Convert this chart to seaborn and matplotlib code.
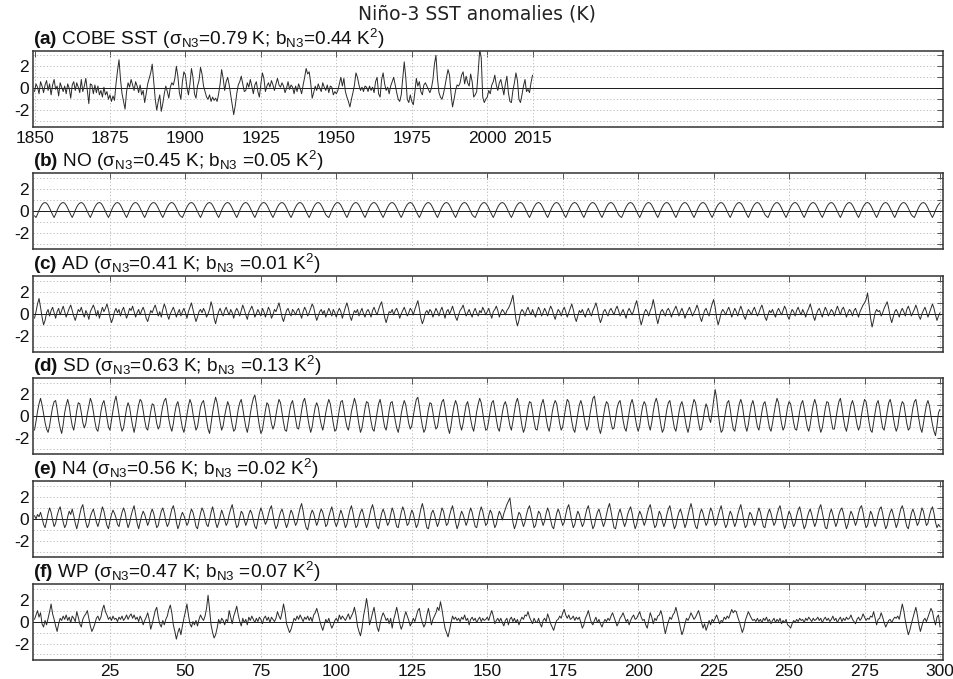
import numpy as np
import pandas as pd
import seaborn as sns
import matplotlib.pyplot as plt

# -------------------- DATA --------------------
# (a) COBE SST, half-year samples from 1850.0
cobe_start = 1850.0
cobe_sst = [
    -0.3, 0.4, 0.1, -0.5, 0.6, 0.2, -0.4, 0.3, 0.7, -0.2, 0.4, -0.6, 0.3, 0.8, -0.1, 0.2, -0.7, 0.5, 0.1, -0.3,
    0.2, -0.5, 0.4, 0.0, -0.9, 0.3, 0.6, -0.2, 0.5, 0.1, -0.4, 0.8, -0.3, 0.2, 0.9, -0.2, -1.4, 0.4, 0.3, -0.5,
    0.3, -0.4, 0.2, -0.6, -0.2, -0.8, 0.1, -0.6, -0.3, -1.0, -0.6, -1.2, -0.7, -1.1, 0.4, 1.6, 2.6, 0.8, -0.5, -1.2,
    -1.9, -0.3, 0.5, 0.1, 0.8, 0.3, -0.2, 0.6, 0.2, -0.4, 0.3, -0.6, -0.2, -1.3, -0.5, 0.4, 0.9, 1.4, 2.2, 0.6,
    -1.0, -2.0, -1.2, -0.6, -2.1, -1.4, -0.5, 0.2, -0.3, -0.9, 0.1, 0.5, 0.3, 0.9, 2.0, 1.1, -0.4, -1.0, 0.6, 1.5,
    1.2, 0.1, -0.6, 0.4, 1.8, 1.0, -0.5, -0.9, 0.2, 0.7, 1.9, 1.3, 0.2, -0.3, -0.8, -1.0, -0.6, -1.2, -0.8, -1.1,
    -0.9, -1.2, -0.5, 0.4, 1.7, 0.9, -0.2, 0.6, 1.0, 0.3, -0.6, -1.5, -2.4, -1.6, -0.5, 0.3, 0.6, 1.1, 0.4, -0.3,
    -0.2, 0.5, 0.1, 0.8, 0.2, -0.5, 0.3, 0.6, -0.3, -0.8, 0.4, 1.4, 0.9, -0.3, 0.2, 0.5, 0.1, 0.7, 0.3, -0.2,
    0.4, 0.9, 0.3, 0.1, 0.5, 0.2, -0.4, 0.0, 0.6, -0.1, 0.3, 0.1, -0.5, 0.2, -0.3, 0.4, 0.0, -0.5, 0.3, 1.0,
    1.8, 1.3, 1.5, 0.5, -0.9, -0.4, 0.2, -0.2, 0.4, 0.0, -0.3, 0.5, 0.1, -0.2, 0.3, -0.4, 0.2, 0.1, -0.6, -0.3,
    -0.5, -0.2, 0.4, 1.0, 0.2, 0.9, -0.3, -0.8, -1.2, -1.7, -1.0, -0.4, 0.3, 1.4, 1.0, 0.3, -0.2, 0.1, -0.3, 0.2,
    0.1, -0.3, 0.2, -0.2, 0.1, -0.4, 0.6, 1.0, -0.5, -0.8, 0.8, 1.4, 0.4, -0.2, 0.1, -0.5, 0.2, 0.6, 1.0, 0.3,
    -0.4, -1.0, -1.2, -0.6, 0.9, 2.4, 1.0, -1.0, -1.3, -0.6, -1.2, -1.5, -0.4, 0.9, 0.2, 0.6, -0.3, -0.6, 0.3, 0.5,
    0.2, -0.1, -0.4, 0.0, 0.8, 2.2, 3.0, 0.9, -0.4, -0.8, -1.0, -0.5, 0.2, 1.0, 1.7, 1.2, -0.5, -1.7, -1.0, -0.2,
    0.3, 0.2, 0.5, 1.2, 1.5, 0.4, 1.1, 0.5, 0.2, 1.3, 0.6, -0.8, -0.6, -0.3, 1.5, 3.5, 2.8, -0.8, -1.3, -1.0,
    -0.8, -0.2, -0.5, 0.3, 0.6, 1.2, 0.3, -0.2, 0.5, 0.8, 0.1, -0.6, 0.4, 1.1, -0.4, -1.2, -1.3, -0.2, 0.5, 1.4,
    0.7, -1.0, -1.3, -0.6, 0.2, 0.8, -0.3, -0.1, -0.4, 0.5, 1.2,
]

# (b)-(f) model runs, half-year samples from model year 0
no_sst = [
    -0.45,
    -0.6, -0.3, 0.05, 0.35, 0.58, 0.72, 0.76, 0.7, 0.52, 0.25, -0.05, -0.35,
    -0.6, -0.3, 0.05, 0.35, 0.58, 0.72, 0.76, 0.7, 0.52, 0.25, -0.05, -0.35,
    -0.6, -0.3, 0.05, 0.35, 0.58, 0.72, 0.76, 0.7, 0.52, 0.25, -0.05, -0.35,
    -0.6, -0.3, 0.05, 0.35, 0.58, 0.72, 0.76, 0.7, 0.52, 0.25, -0.05, -0.35,
    -0.6, -0.3, 0.05, 0.35, 0.58, 0.72, 0.76, 0.7, 0.52, 0.25, -0.05, -0.35,
    -0.6, -0.3, 0.05, 0.35, 0.58, 0.72, 0.76, 0.7, 0.52, 0.25, -0.05, -0.35,
    -0.6, -0.3, 0.05, 0.35, 0.58, 0.72, 0.76, 0.7, 0.52, 0.25, -0.05, -0.35,
    -0.6, -0.3, 0.05, 0.35, 0.58, 0.72, 0.76, 0.7, 0.52, 0.25, -0.05, -0.35,
    -0.5,
    -0.6, -0.3, 0.05, 0.35, 0.58, 0.72, 0.76, 0.7, 0.52, 0.25, -0.05, -0.35,
    -0.6, -0.3, 0.05, 0.35, 0.58, 0.72, 0.76, 0.7, 0.52, 0.25, -0.05, -0.35,
    -0.6, -0.3, 0.05, 0.35, 0.58, 0.72, 0.76, 0.7, 0.52, 0.25, -0.05, -0.35,
    -0.6, -0.3, 0.05, 0.35, 0.58, 0.72, 0.76, 0.7, 0.52, 0.25, -0.05, -0.35,
    -0.6, -0.3, 0.05, 0.35, 0.58, 0.72, 0.76, 0.7, 0.52, 0.25, -0.05, -0.35,
    -0.6, -0.3, 0.05, 0.35, 0.58, 0.72, 0.76, 0.7, 0.52, 0.25, -0.05, -0.35,
    -0.6, -0.3, 0.05, 0.35, 0.58, 0.72, 0.76, 0.7, 0.52, 0.25, -0.05, -0.35,
    -0.6, -0.3, 0.05, 0.35, 0.58, 0.72, 0.76, 0.7, 0.52, 0.25, -0.05, -0.35,
    -0.5,
    -0.6, -0.3, 0.05, 0.35, 0.58, 0.72, 0.76, 0.7, 0.52, 0.25, -0.05, -0.35,
    -0.6, -0.3, 0.05, 0.35, 0.58, 0.72, 0.76, 0.7, 0.52, 0.25, -0.05, -0.35,
    -0.6, -0.3, 0.05, 0.35, 0.58, 0.72, 0.76, 0.7, 0.52, 0.25, -0.05, -0.35,
    -0.6, -0.3, 0.05, 0.35, 0.58, 0.72, 0.76, 0.7, 0.52, 0.25, -0.05, -0.35,
    -0.6, -0.3, 0.05, 0.35, 0.58, 0.72, 0.76, 0.7, 0.52, 0.25, -0.05, -0.35,
    -0.6, -0.3, 0.05, 0.35, 0.58, 0.72, 0.76, 0.7, 0.52, 0.25, -0.05, -0.35,
    -0.6, -0.3, 0.05, 0.35, 0.58, 0.72, 0.76, 0.7, 0.52, 0.25, -0.05, -0.35,
    -0.6, -0.3, 0.05, 0.35, 0.58, 0.72, 0.76, 0.7, 0.52, 0.25, -0.05, -0.35,
    -0.5,
    -0.6, -0.3, 0.05, 0.35, 0.58, 0.72, 0.76, 0.7, 0.52, 0.25, -0.05, -0.35,
    -0.6, -0.3, 0.05, 0.35, 0.58, 0.72, 0.76, 0.7, 0.52, 0.25, -0.05, -0.35,
    -0.6, -0.3, 0.05, 0.35, 0.58, 0.72, 0.76, 0.7, 0.52, 0.25, -0.05, -0.35,
    -0.6, -0.3, 0.05, 0.35, 0.58, 0.72, 0.76, 0.7, 0.52, 0.25, -0.05, -0.35,
    -0.6, -0.3, 0.05, 0.35, 0.58, 0.72, 0.76, 0.7, 0.52, 0.25, -0.05, -0.35,
    -0.6, -0.3, 0.05, 0.35, 0.58, 0.72, 0.76, 0.7, 0.52, 0.25, -0.05, -0.35,
    -0.6, -0.3, 0.05, 0.35, 0.58, 0.72, 0.76, 0.7, 0.52, 0.25, -0.05, -0.35,
    -0.6, -0.3, 0.05, 0.35, 0.58, 0.72, 0.76, 0.7, 0.52, 0.25, -0.05, -0.35,
    -0.5,
    -0.6, -0.3, 0.05, 0.35, 0.58, 0.72, 0.76, 0.7, 0.52, 0.25, -0.05, -0.35,
    -0.6, -0.3, 0.05, 0.35, 0.58, 0.72, 0.76, 0.7, 0.52, 0.25, -0.05, -0.35,
    -0.6, -0.3, 0.05, 0.35, 0.58, 0.72, 0.76, 0.7, 0.52, 0.25, -0.05, -0.35,
    -0.6, -0.3, 0.05, 0.35, 0.58, 0.72, 0.76, 0.7, 0.52, 0.25, -0.05, -0.35,
    -0.6, -0.3, 0.05, 0.35, 0.58, 0.72, 0.76, 0.7, 0.52, 0.25, -0.05, -0.35,
    -0.6, -0.3, 0.05, 0.35, 0.58, 0.72, 0.76, 0.7, 0.52, 0.25, -0.05, -0.35,
    -0.6, -0.3, 0.05, 0.35, 0.58, 0.72, 0.76, 0.7, 0.52, 0.25, -0.05, -0.35,
    -0.6, -0.3, 0.05, 0.35, 0.58, 0.72, 0.76, 0.7, 0.52, 0.25, -0.05, -0.35,
    -0.5,
    -0.6, -0.3, 0.05, 0.35, 0.58, 0.72, 0.76, 0.7, 0.52, 0.25, -0.05, -0.35,
    -0.6, -0.3, 0.05, 0.35, 0.58, 0.72, 0.76, 0.7, 0.52, 0.25, -0.05, -0.35,
    -0.6, -0.3, 0.05, 0.35, 0.58, 0.72, 0.76, 0.7, 0.52, 0.25, -0.05, -0.35,
    -0.6, -0.3, 0.05, 0.35, 0.58, 0.72, 0.76, 0.7, 0.52, 0.25, -0.05, -0.35,
    -0.6, -0.3, 0.05, 0.35, 0.58, 0.72, 0.76, 0.7, 0.52, 0.25, -0.05, -0.35,
    -0.6, -0.3, 0.05, 0.35, 0.58, 0.72, 0.76, 0.7, 0.52, 0.25, -0.05, -0.35,
    -0.6, -0.3, 0.05, 0.35, 0.58, 0.72, 0.76, 0.7, 0.52, 0.25, -0.05, -0.35,
    -0.6, -0.3, 0.05, 0.35, 0.58, 0.72, 0.76, 0.7, 0.52, 0.25, -0.05, -0.35,
    -0.5,
    -0.6, -0.3, 0.05, 0.35, 0.58, 0.72, 0.76, 0.7, 0.52, 0.25, -0.05, -0.35,
    -0.6, -0.3, 0.05, 0.35, 0.58, 0.72,
]

ad_sst = [
    -0.4, 0.2, 0.9, 1.4, 0.6, -0.3, -1.0, -0.6, 0.1, 0.4, -0.2, 0.3, 0.6, 0.1, -0.4, 0.2, 0.5, -0.1, 0.3, 0.7,
    0.2, -0.3, 0.1, 0.5, 0.8, 0.3, -0.2, -0.6, -0.1, 0.4, 0.2, 0.6, 0.1, -0.3, 0.3, 0.0, -0.5, 0.2, 0.5, 0.8,
    0.4, -0.2, 0.3, -0.4, 0.1, 0.6, 0.2, 0.5, 0.9, 0.4, -0.3, -0.8, -0.4, 0.2, 0.5, 0.1, 0.4, -0.2, 0.3, 0.6,
    0.1, -0.4, 0.0, 0.5, 0.3, 0.7, 0.2, -0.3, 0.1, 0.4, -0.1, 0.3, 0.6, 0.2, -0.4, -0.7, -0.2, 0.3, 0.1, 0.5,
    0.8, 0.3, -0.2, 0.2, -0.3, 0.4, 0.9, 0.5, -0.1, -0.5, 0.0, 0.3, 0.6, 0.2, -0.3, 0.1, 0.4, -0.2, 0.2, 0.5,
    0.1, -0.4, 0.2, 0.6, 1.0, 0.4, -0.2, -0.7, -0.3, 0.2, 0.4, 0.1, 0.5, 0.2, -0.3, 0.0, 0.4, 1.1, 0.6, -0.4,
    -0.9, -0.3, 0.2, 0.5, 0.1, -0.2, 0.3, 0.6, 0.2, -0.1, 0.4, 0.1, -0.4, 0.2, 0.5, 0.2, -0.2, 0.3, 0.8, 0.4,
    -0.1, -0.5, 0.1, 0.4, 0.7, 0.3, -0.3, 0.0, 0.4, 0.1, -0.2, 0.5, 0.2, -0.3, 0.1, 0.6, 0.3, -0.4, -0.1, 0.4,
    0.2, 0.6, 1.0, 0.4, -0.3, -0.7, -0.2, 0.3, 0.5, 0.1, -0.2, 0.4, 0.2, -0.1, 0.3, 0.5, 0.0, -0.4, 0.2, 0.6,
    0.3, -0.2, 0.1, 0.5, 0.9, 0.6, -0.1, -0.6, -0.2, 0.2, 0.4, 0.0, 0.3, -0.3, 0.1, 0.5, 0.2, -0.2, 0.4, 0.1,
    -0.3, 0.2, 0.5, 0.2, -0.4, 0.1, 0.6, 1.0, 0.5, -0.2, -0.6, -0.1, 0.3, 0.1, 0.4, -0.2, 0.2, 0.5, 0.0, -0.3,
    0.2, 0.4, 0.1, -0.3, 0.3, 0.6, 0.2, -0.1, 0.4, 0.8, 1.1, 0.4, -0.3, -0.8, -0.3, 0.2, 0.1, 0.4, -0.1, 0.3,
    0.5, 0.1, -0.4, 0.0, 0.3, 0.6, 0.2, -0.2, 0.1, 0.5, 0.3, -0.1, 0.4, 0.8, 1.2, 0.5, -0.4, -0.9, -0.5, 0.1,
    0.3, 0.0, 0.4, 0.2, -0.3, 0.1, 0.5, 0.2, -0.2, 0.3, 0.6, 0.1, -0.4, 0.2, 0.4, 0.0, 0.3, 0.7, 0.2, -0.3,
    -0.6, -0.1, 0.3, 0.5, 0.8, 0.3, -0.2, 0.1, 0.4, 0.0, -0.3, 0.2, 0.5, 0.1, -0.2, 0.3, 0.1, 0.6, 0.3, -0.1,
    0.2, 0.5, 0.0, -0.4, 0.2, 0.4, 0.7, 0.3, -0.3, 0.1, 0.4, 0.2, -0.1, 0.3, 0.5, 0.8, 1.2, 1.7, 0.6, -0.5,
    -1.1, -0.6, 0.1, 0.4, 0.2, -0.2, 0.3, 0.6, 0.2, -0.1, 0.4, 0.0, -0.3, 0.2, 0.6, 0.3, -0.2, 0.1, 0.5, 0.2,
    -0.2, 0.3, 0.7, 0.4, -0.1, -0.5, 0.0, 0.4, 0.2, -0.2, 0.3, 0.6, 0.2, -0.3, 0.1, 0.5, 0.9, 0.4, -0.3, -0.7,
    -0.2, 0.3, 0.1, 0.4, 0.0, -0.3, 0.2, 0.5, 0.1, -0.2, 0.3, 0.6, 1.0, 0.5, -0.3, -0.8, -0.4, 0.2, 0.4, 0.1,
    -0.2, 0.3, 0.5, 0.2, -0.1, 0.4, 0.7, 0.3, -0.2, 0.1, 0.4, 0.0, -0.4, 0.2, 0.5, 0.2, -0.1, 0.3, 0.8, 1.2,
    0.5, -0.4, -1.0, -0.5, 0.1, 0.4, 0.2, -0.2, 0.3, 0.6, 1.3, 0.6, -0.3, -0.9, -0.3, 0.2, 0.4, 0.1, -0.2, 0.3,
    0.5, 0.2, -0.3, 0.1, 0.4, 0.7, 0.3, -0.2, 0.2, 0.5, 0.1, -0.4, 0.0, 0.3, 0.6, 0.2, -0.2, 0.1, 0.4, 0.8,
    0.4, -0.3, -0.7, -0.2, 0.3, 0.5, 0.1, -0.2, 0.4, 0.9, 1.3, 0.6, -0.4, -1.0, -0.5, 0.1, 0.4, 0.2, -0.1, 0.3,
    0.6, 0.2, -0.3, 0.1, 0.5, 0.2, -0.2, 0.3, 0.7, 0.3, -0.2, -0.5, 0.0, 0.4, 0.2, -0.1, 0.3, 0.6, 0.2, -0.2,
    0.1, 0.5, 0.8, 0.3, -0.3, -0.6, -0.1, 0.3, 0.1, 0.4, 0.0, -0.3, 0.2, 0.5, 0.2, -0.1, 0.3, 0.7, 0.4, -0.2,
    -0.5, 0.0, 0.4, 0.2, -0.2, 0.3, 0.6, 0.2, -0.1, 0.4, 0.1, -0.3, 0.2, 0.5, 0.9, 0.4, -0.2, -0.6, -0.1, 0.3,
    0.5, 0.1, -0.3, 0.2, 0.6, 0.3, -0.2, 0.1, 0.4, 0.2, -0.2, 0.3, 0.7, 0.3, -0.1, 0.4, 0.6, 0.2, -0.3, 0.1,
    0.4, 0.2, -0.2, 0.3, 0.5, 0.1, -0.3, 0.2, 0.5, 0.8, 1.0, 1.3, 1.9, 0.8, -0.4, -1.2, -0.6, 0.1, 0.4, 0.2,
    0.3, -0.2, 0.1, 0.5, 0.8, 1.1, 0.5, -0.3, -0.8, -0.3, 0.2, 0.4, 0.1, -0.3, 0.2, 0.5, 0.2, -0.2, 0.4, 0.7,
    0.3, -0.2, 0.1, 0.4, 0.8, 0.4, -0.2, -0.5, 0.0, 0.3, 0.6, 0.2, -0.3, 0.1, 0.5, 0.9, 0.5, -0.1, -0.6, -0.2,
    0.1,
]

sd_sst = [
    -1.3, -0.5, 0.4, 1.1, 1.6, 1.0, 0.2, -0.6, -1.2, -1.5, -0.9, 0.0, 0.8, 1.3, 1.4, 0.6, -0.4, -1.1, -1.6, -0.8,
    0.3, 1.0, 1.5, 0.9, -0.1, -0.9, -1.3, -0.5, 0.5, 1.2, 1.1, 0.3, -0.6, -1.1, -0.7, 0.2, 0.9, 1.6, 1.2, 0.4,
    -0.5, -1.2, -1.4, -0.6, 0.4, 1.1, 1.4, 0.7, -0.2, -1.0, -1.3, -0.4, 0.5, 1.3, 1.8, 1.0, 0.1, -0.8, -1.4, -1.1,
    -0.2, 0.7, 1.2, 0.8, -0.1, -0.9, -1.5, -0.8, 0.2, 1.0, 1.5, 1.3, 0.5, -0.4, -1.1, -1.3, -0.5, 0.4, 1.1, 1.0,
    0.2, -0.7, -1.2, -0.9, 0.1, 0.9, 1.4, 1.6, 0.8, -0.3, -1.0, -1.4, -0.7, 0.3, 1.0, 1.3, 0.6, -0.3, -1.1, -1.5,
    -0.8, 0.1, 0.9, 1.5, 1.1, 0.2, -0.6, -1.3, -1.0, -0.1, 0.8, 1.2, 1.4, 0.6, -0.4, -1.2, -1.6, -0.7, 0.3, 1.1,
    1.7, 1.2, 0.3, -0.6, -1.3, -0.9, 0.0, 0.7, 1.3, 0.9, 0.0, -0.8, -1.4, -1.2, -0.3, 0.6, 1.2, 1.5, 0.7, -0.2,
    -1.0, -1.5, -0.8, 0.2, 1.0, 1.6, 1.9, 1.1, 0.0, -0.9, -1.6, -1.3, -0.4, 0.5, 1.2, 1.0, 0.2, -0.7, -1.2, -0.8,
    0.1, 0.9, 1.5, 1.2, 0.3, -0.6, -1.3, -1.4, -0.5, 0.4, 1.1, 1.4, 0.6, -0.3, -1.1, -1.2, -0.4, 0.5, 1.3, 1.6,
    0.9, -0.1, -0.9, -1.5, -1.0, 0.0, 0.8, 1.2, 0.8, -0.1, -0.8, -1.3, -0.6, 0.3, 1.0, 1.5, 1.1, 0.2, -0.7, -1.4,
    -1.2, -0.3, 0.6, 1.3, 1.4, 0.6, -0.3, -1.0, -1.3, -0.5, 0.4, 1.0, 1.6, 1.1, 0.1, -0.8, -1.5, -1.1, -0.2, 0.7,
    1.3, 1.2, 0.4, -0.5, -1.2, -1.4, -0.6, 0.3, 1.1, 1.5, 0.8, -0.2, -1.0, -1.3, -0.5, 0.5, 1.2, 1.3, 0.5, -0.4,
    -1.1, -1.5, -0.8, 0.2, 0.9, 1.4, 1.0, 0.1, -0.7, -1.2, -0.9, 0.0, 0.8, 1.5, 1.7, 0.9, -0.1, -0.9, -1.5, -1.2,
    -0.3, 0.6, 1.2, 1.1, 0.3, -0.6, -1.2, -1.0, -0.1, 0.7, 1.3, 1.5, 0.7, -0.3, -1.1, -1.6, -0.9, 0.1, 0.9, 1.4,
    1.0, 0.1, -0.8, -1.3, -0.7, 0.2, 1.0, 1.3, 0.6, -0.3, -1.0, -1.4, -0.6, 0.4, 1.1, 1.6, 1.2, 0.3, -0.6, -1.3,
    -1.2, -0.4, 0.5, 1.2, 1.4, 0.6, -0.3, -1.1, -1.4, -0.6, 0.3, 1.0, 1.3, 0.8, -0.1, -0.9, -1.3, -0.5, 0.4, 1.2,
    1.6, 1.0, 0.0, -0.9, -1.5, -1.1, -0.2, 0.7, 1.3, 1.2, 0.4, -0.5, -1.2, -1.3, -0.5, 0.4, 1.1, 1.5, 0.8, -0.2,
    -1.0, -1.4, -0.7, 0.3, 1.0, 1.4, 1.1, 0.2, -0.7, -1.3, -1.0, -0.1, 0.8, 1.5, 1.3, 0.4, -0.5, -1.2, -1.5, -0.7,
    0.2, 1.0, 1.4, 0.9, 0.0, -0.8, -1.3, -0.9, 0.1, 0.9, 1.6, 1.8, 0.9, -0.2, -1.1, -1.6, -1.0, 0.0, 0.8, 1.3,
    1.1, 0.3, -0.6, -1.2, -1.1, -0.2, 0.7, 1.2, 1.4, 0.6, -0.4, -1.1, -1.4, -0.6, 0.3, 1.1, 1.5, 0.9, -0.1, -0.9,
    -1.4, -0.9, 0.1, 0.9, 1.3, 1.0, 0.1, -0.8, -1.3, -0.6, 0.4, 1.2, 1.6, 1.1, 0.1, -0.8, -1.5, -1.2, -0.3, 0.6,
    1.2, 1.4, 0.6, -0.3, -1.1, -1.4, -0.6, 0.3, 1.0, 1.3, 0.7, -0.2, -1.0, -1.5, -0.9, 0.1, 0.9, 1.5, 1.2, 0.3,
    -0.6, -1.3, -1.2, -0.4, 0.5, 1.1, 0.7, -0.2, -0.6, 0.3, 1.4, 2.4, 1.6, 0.3, -0.8, -1.5, -1.3, -0.4, 0.5, 1.2,
    1.4, 0.6, -0.4, -1.2, -1.4, -0.6, 0.3, 1.1, 1.5, 1.0, 0.0, -0.9, -1.4, -0.8, 0.2, 1.0, 1.4, 0.8, -0.2, -1.0,
    -1.3, -0.5, 0.4, 1.1, 1.3, 0.6, -0.3, -1.1, -1.4, -0.7, 0.2, 1.0, 1.6, 1.2, 0.2, -0.7, -1.3, -1.0, -0.1, 0.8,
    1.3, 1.1, 0.3, -0.6, -1.2, -1.3, -0.5, 0.4, 1.1, 1.4, 0.7, -0.2, -1.0, -1.4, -0.8, 0.2, 1.0, 1.5, 1.0, 0.0,
    -0.9, -1.5, -1.1, -0.2, 0.7, 1.3, 1.2, 0.4, -0.5, -1.2, -1.2, -0.3, 0.6, 1.3, 1.6, 0.8, -0.2, -1.0, -1.4, -0.7,
    0.2, 1.0, 1.4, 0.9, 0.0, -0.8, -1.3, -0.9, 0.1, 0.9, 1.5, 1.3, 0.4, -0.6, -1.3, -1.5, -0.6, 0.3, 1.1, 1.4,
    0.7, -0.3, -1.1, -1.3, -0.5, 0.4, 1.2, 1.5, 0.9, -0.1, -0.9, -1.4, -1.0, 0.0, 0.8, 1.3, 1.1, 0.2, -0.7, -1.3,
    -1.1, -0.2, 0.7, 1.3, 1.5, 0.7, -0.3, -1.1, -1.5, -0.7, 0.2, 1.0, 1.4, 0.9, 0.0, -0.8, -1.4, -1.8, -0.9, 0.3,
    0.6,
]

n4_sst = [
    0.3, 0.0, 0.4, 0.2, 0.6, 0.1, -0.5, -0.8, -0.2, 0.5, 1.0, 0.6, -0.1, -0.7, -0.4, 0.3, 0.8, 1.1, 0.4, -0.3,
    -0.8, -0.5, 0.2, 0.7, 0.4, 0.9, 0.3, -0.4, -0.9, -0.3, 0.4, 1.0, 1.3, 0.5, -0.3, -0.8, -0.5, 0.2, 0.6, 0.9,
    0.3, -0.3, -0.7, -0.2, 0.5, 1.1, 0.7, 0.0, -0.6, -0.9, -0.2, 0.4, 0.8, 0.5, 0.1, -0.5, -0.7, 0.0, 0.6, 1.0,
    0.6, -0.2, -0.8, -0.4, 0.3, 0.8, 1.2, 0.4, -0.4, -0.9, -0.3, 0.3, 0.7, 0.4, -0.1, -0.6, -0.2, 0.5, 0.9, 0.5,
    -0.2, -0.8, -0.6, 0.1, 0.7, 1.0, 0.5, -0.2, -0.7, -0.4, 0.3, 0.9, 1.2, 0.6, -0.3, -0.9, -0.5, 0.2, 0.6, 0.3,
    -0.1, -0.6, -0.3, 0.4, 0.9, 0.6, 0.0, -0.7, -0.9, -0.2, 0.5, 1.0, 0.7, 0.1, -0.5, -0.7, -0.1, 0.6, 1.1, 0.5,
    -0.3, -0.8, -0.4, 0.2, 0.8, 0.4, -0.1, -0.6, -0.3, 0.4, 0.9, 1.3, 0.6, -0.2, -0.8, -0.6, 0.1, 0.7, 0.5, -0.1,
    -0.6, -0.2, 0.4, 0.8, 0.5, -0.1, -0.7, -0.9, -0.2, 0.5, 1.0, 0.6, 0.0, -0.5, -0.2, 0.4, 0.9, 1.2, 0.4, -0.4,
    -0.9, -0.6, 0.1, 0.6, 0.9, 0.4, -0.3, -0.8, -0.4, 0.3, 0.8, 0.5, -0.1, -0.6, -0.3, 0.4, 1.0, 1.4, 0.7, -0.2,
    -0.8, -1.0, -0.3, 0.4, 0.8, 0.5, -0.1, -0.6, -0.2, 0.5, 0.9, 0.6, 0.0, -0.7, -0.5, 0.2, 0.7, 1.1, 0.5, -0.3,
    -0.7, -0.3, 0.3, 0.8, 0.4, -0.2, -0.8, -0.5, 0.2, 0.8, 1.2, 0.6, -0.2, -0.8, -0.6, 0.1, 0.6, 0.9, 0.4, -0.3,
    -0.8, -0.4, 0.3, 0.9, 1.3, 0.7, -0.1, -0.7, -0.9, -0.2, 0.5, 0.9, 0.5, -0.1, -0.6, -0.3, 0.4, 1.0, 0.6, -0.1,
    -0.7, -0.8, -0.1, 0.6, 1.1, 0.7, 0.0, -0.6, -0.4, 0.3, 0.8, 0.5, -0.2, -0.8, -0.5, 0.2, 0.9, 1.4, 0.8, -0.1,
    -0.8, -0.9, -0.2, 0.5, 0.8, 0.4, -0.2, -0.7, -0.3, 0.4, 1.0, 0.7, 0.0, -0.6, -0.4, 0.3, 0.8, 1.2, 0.5, -0.3,
    -0.9, -0.5, 0.2, 0.7, 0.4, -0.1, -0.6, -0.2, 0.5, 1.0, 0.6, -0.1, -0.7, -0.8, -0.1, 0.6, 1.1, 0.7, 0.0, -0.6,
    -0.4, 0.3, 0.8, 0.5, -0.2, -0.8, -0.5, 0.2, 0.7, 0.4, -0.1, 0.5, 0.9, 1.3, 1.6, 1.9, 0.8, -0.3, -0.9, -0.5,
    0.1, 0.6, 0.4, -0.2, -0.7, -0.3, 0.4, 0.9, 1.2, 0.6, -0.1, -0.8, -0.6, 0.1, 0.7, 0.5, -0.1, -0.6, -0.2, 0.5,
    1.0, 0.6, -0.1, -0.7, -0.9, -0.2, 0.5, 0.9, 0.5, -0.1, -0.6, -0.3, 0.4, 1.0, 1.3, 0.6, -0.2, -0.8, -0.5, 0.2,
    0.7, 0.4, -0.2, -0.7, -0.4, 0.3, 0.9, 1.2, 0.5, -0.3, -0.9, -0.6, 0.1, 0.6, 0.9, 0.4, -0.2, -0.7, -0.3, 0.4,
    1.0, 1.4, 0.7, -0.1, -0.8, -0.9, -0.2, 0.5, 0.9, 0.4, -0.2, -0.7, -0.3, 0.4, 0.8, 1.1, 0.5, -0.3, -0.9, -0.5,
    0.2, 0.7, 0.4, -0.1, -0.6, -0.2, 0.5, 1.0, 1.3, 0.6, -0.2, -0.8, -0.6, 0.1, 0.7, 0.4, -0.2, -0.7, -0.3, 0.4,
    0.9, 1.2, 0.5, -0.3, -0.9, -0.6, 0.1, 0.6, 0.9, 0.4, -0.2, -0.8, -0.4, 0.3, 0.9, 1.4, 0.8, -0.1, -0.7, -0.9,
    -0.2, 0.5, 0.9, 0.5, -0.1, -0.6, -0.3, 0.4, 1.0, 0.7, 0.0, -0.6, -0.4, 0.3, 0.8, 1.2, 0.5, -0.3, -0.8, -0.5,
    0.2, 0.7, 0.4, -0.2, -0.7, -0.3, 0.4, 0.9, 1.3, 0.6, -0.2, -0.8, -0.6, 0.1, 0.6, 0.4, -0.1, -0.6, -0.2, 0.5,
    1.0, 0.6, -0.1, -0.7, -0.8, -0.1, 0.5, 0.9, 0.5, -0.1, -0.6, -0.3, 0.4, 0.9, 1.2, 0.5, -0.3, -0.9, -0.5, 0.2,
    0.7, 0.4, -0.2, -0.7, -0.4, 0.3, 0.8, 1.1, 0.5, -0.3, -0.9, -0.6, 0.1, 0.6, 0.9, 0.4, -0.2, -0.7, -0.3, 0.4,
    1.0, 1.3, 0.6, -0.1, -0.8, -0.9, -0.2, 0.5, 0.9, 0.4, -0.2, -0.7, -0.3, 0.4, 0.8, 1.0, 0.5, -0.3, -0.9, -0.5,
    0.2, 0.7, 0.4, -0.1, -0.6, -0.2, 0.5, 1.0, 1.2, 0.6, -0.2, -0.8, -0.6, 0.1, 0.7, 0.4, -0.2, -0.7, -0.3, 0.4,
    0.9, 1.1, 0.5, -0.3, -0.9, -0.6, 0.1, 0.6, 0.9, 0.4, -0.2, -0.8, -0.4, 0.3, 0.9, 1.2, 0.7, -0.1, -0.7, -0.9,
    -0.2, 0.5, 0.9, 0.5, -0.1, -0.6, -0.3, 0.4, 1.0, 0.7, 0.0, -0.6, -0.4, 0.3, 0.8, 1.1, 0.5, -0.3, -0.8, -0.5,
    -0.7,
]

wp_sst = [
    0.2, 0.6, 1.0, 0.4, 0.8, -0.2, -0.5, 0.1, -0.3, 0.3, 0.9, 1.6, 0.7, 0.2, -0.4, -0.9, -0.2, 0.3, 0.1, 0.5,
    0.2, 0.6, 0.1, 0.4, -0.1, 0.5, 0.3, 0.0, 0.9, 0.4, -0.2, -0.5, 0.2, 0.5, 0.7, 1.0, 0.3, -0.4, -0.9, -0.6,
    -0.2, 0.3, 0.5, 0.1, 0.4, 1.1, 1.5, 0.9, 0.6, 0.2, 0.4, 0.1, 0.5, 0.2, 0.3, 0.0, 0.4, 0.2, 0.5, 0.1,
    0.3, 0.6, 0.2, 0.5, 0.7, 0.3, 0.6, 0.2, 0.4, 0.0, 0.5, 0.2, -0.3, 0.1, 0.4, 0.8, 0.2, -0.7, -0.2, 0.4,
    1.0, 1.3, 0.4, -0.2, -0.5, 0.1, -0.3, 0.2, 0.5, 1.1, 1.5, 0.8, -0.3, -0.9, -1.6, -1.0, -0.6, -1.2, -0.4, 0.3,
    0.9, 1.6, 0.6, -0.2, -0.5, 0.0, -0.3, 0.1, -0.4, 0.2, 0.6, 0.3, 0.1, 0.5, 1.2, 2.4, 1.1, -0.3, -1.0, -1.5,
    -1.2, -0.6, 0.2, -0.2, 0.3, 0.1, -0.3, 0.2, 0.0, 1.0, 0.4, -0.2, 0.5, 0.9, 1.4, 0.6, 0.0, -0.4, 0.3, -0.1,
    0.2, -0.3, 0.4, 0.1, 0.5, 0.2, -0.1, 0.3, 0.0, 0.4, 0.2, -0.2, 0.3, 0.5, 0.1, 0.4, -0.1, 0.4, 0.2, 0.0,
    0.3, 0.9, 0.5, 0.2, 0.8, 1.6, 0.9, -0.2, -0.6, -1.0, -0.7, -0.2, 0.3, 0.1, 0.5, 0.2, 0.6, 0.3, 0.0, 0.4,
    0.2, 0.5, 0.1, 0.4, 0.0, 0.6, 0.8, 1.2, 0.7, 0.1, -0.4, -0.8, -0.3, 0.2, -0.1, 0.3, -0.2, -0.6, -0.3, 0.1,
    0.3, 0.0, 0.6, 0.2, 0.5, 0.3, 0.1, 0.4, 0.7, 0.2, 0.5, 0.8, 1.3, 0.6, -0.4, -0.9, -1.3, -0.6, 0.5, 1.2,
    2.1, 1.2, -0.3, 0.2, 0.8, 1.3, 0.4, -0.5, -0.9, -0.2, 0.4, 0.8, 0.5, 0.1, 0.3, -0.2, 0.3, -0.6, 0.2, 0.7,
    1.3, 0.6, -0.2, -0.7, -0.3, 0.4, 0.9, 0.5, 0.1, -0.4, -0.1, 0.3, 0.0, 0.5, 1.0, 1.2, 0.4, -0.1, -0.5, -0.2,
    0.6, 1.2, 0.5, -0.3, 0.2, 0.5, 0.8, 1.3, 1.0, 1.8, 1.1, 0.2, -0.6, -1.0, -1.4, -0.8, -0.1, 0.5, 0.2, 0.4,
    0.1, 0.3, 0.0, 0.4, 0.2, 0.6, 0.1, 0.3, -0.3, 0.2, 0.4, 0.1, 0.3, -0.1, 0.2, 0.4, 0.0, 0.3, 0.1, 0.2,
    0.4, 0.1, 0.6, 1.0, 0.5, -0.2, 0.1, 0.3, 0.0, 0.3, -0.1, -0.4, 0.1, 0.3, -0.3, 0.2, 0.4, 0.0, 0.3, -0.1,
    0.2, -0.3, 0.1, 0.4, 0.2, 0.6, 0.5, 0.9, 0.4, 0.1, -0.2, 0.3, 0.0, -0.1, 0.3, -0.2, -0.5, 0.1, 0.3, 0.0,
    0.7, 0.3, -0.2, -0.5, -0.8, -0.3, 0.1, 0.2, 0.5, 0.3, 0.8, 1.1, 0.6, 0.3, 0.6, 0.2, 0.3, 0.5, 0.1, 0.4,
    0.2, 0.4, -0.1, -0.6, -0.3, 0.3, 0.6, 1.0, 0.4, -0.1, -0.3, 0.1, 0.4, -0.1, 0.2, -0.2, -0.5, -0.1, 0.2, 0.0,
    0.3, 0.1, 0.5, 0.8, 0.4, 0.0, -0.4, -0.1, 0.3, 0.5, 0.8, 0.4, 0.0, 0.2, -0.3, 0.1, 0.4, 0.6, 0.2, 0.3,
    0.6, 0.9, 0.4, 0.1, 0.2, -0.3, -0.6, 0.1, 0.8, 0.4, -0.2, 0.3, 0.1, 0.5, 0.6, 1.0, 0.5, -0.4, -1.1, -0.5,
    0.0, 0.4, 0.2, 0.6, 0.8, 1.3, 0.7, 0.1, -0.6, -1.2, -0.8, -0.2, 0.3, 0.1, 0.4, 0.8, 0.5, 0.2, 0.4, 0.7,
    1.0, 0.5, -0.1, -0.6, -0.2, -0.8, -0.4, 0.1, -0.3, 0.2, 0.0, 0.3, 0.6, 0.2, -0.2, 0.1, 0.0, 0.4, 0.2, 0.5,
    0.3, 0.7, 1.1, 0.8, 1.0, 0.9, 0.4, 0.0, -0.5, -1.0, -0.6, 0.1, 0.5, 0.9, 0.6, 0.3, 0.1, 0.2, 0.0, 0.3,
    0.0, 0.2, -0.1, 0.3, 0.1, 0.4, 0.0, 0.2, -0.2, 0.1, 0.3, -0.1, 0.2, 0.0, 0.3, -0.2, 0.1, -0.1, 0.2, -0.3,
    -0.4, -0.6, -0.2, 0.1, -0.1, 0.2, 0.0, 0.3, 0.1, 0.2, -0.1, 0.3, 0.1, 0.4, 0.2, 0.0, 0.3, 0.1, 0.2, 0.4,
    0.1, 0.3, -0.1, 0.2, 0.4, 0.1, 0.3, 0.0, 0.2, 0.5, 0.1, 0.3, -0.1, 0.2, 0.4, 0.0, 0.3, 0.1, 0.4, 0.2,
    0.3, 0.6, 0.2, 0.0, -0.2, 0.2, 0.4, 0.1, 0.3, 0.7, 0.4, 0.1, 0.3, 0.2, 0.5, 0.4, 0.9, 0.3, -0.3, 0.2,
    0.3, 0.8, 0.4, -0.1, -0.5, -0.2, 0.1, 0.2, -0.1, 0.2, 0.4, 0.3, 0.5, 0.2, 0.9, 1.6, 1.0, 0.1, -0.6, -1.2,
    -0.8, -0.2, 0.3, 0.8, 1.3, 0.6, -0.3, -0.9, -0.4, 0.1, 0.3, 0.0, 0.4, 0.8, 1.2, 0.9, 0.2, -0.3, 0.4, 0.6,
    -0.5,
]

panel_titles = [
    r"$\bf{(a)}$ COBE SST (σ$_{\rm N3}$=0.79 K; b$_{\rm N3}$=0.44 K$^{2}$)",
    r"$\bf{(b)}$ NO (σ$_{\rm N3}$=0.45 K; b$_{\rm N3}$ =0.05 K$^{2}$)",
    r"$\bf{(c)}$ AD (σ$_{\rm N3}$=0.41 K; b$_{\rm N3}$ =0.01 K$^{2}$)",
    r"$\bf{(d)}$ SD (σ$_{\rm N3}$=0.63 K; b$_{\rm N3}$ =0.13 K$^{2}$)",
    r"$\bf{(e)}$ N4 (σ$_{\rm N3}$=0.56 K; b$_{\rm N3}$ =0.02 K$^{2}$)",
    r"$\bf{(f)}$ WP (σ$_{\rm N3}$=0.47 K; b$_{\rm N3}$ =0.07 K$^{2}$)",
]
cobe_ticks = [1850, 1875, 1900, 1925, 1950, 1975, 2000, 2015]
model_ticks = [25, 50, 75, 100, 125, 150, 175, 200, 225, 250, 275, 300]

# -------------------- FIGURE --------------------
sns.set_theme(style="white")
plt.rcParams['font.family'] = ['Liberation Sans', 'DejaVu Sans']
plt.rcParams['mathtext.fontset'] = 'custom'
plt.rcParams['mathtext.rm'] = 'Liberation Sans'
plt.rcParams['mathtext.it'] = 'Liberation Sans:italic'
plt.rcParams['mathtext.bf'] = 'Liberation Sans:bold'

fig = plt.figure(figsize=(9.54, 6.79), dpi=100)

left, width, height = 0.0349, 0.9536, 0.1119
bottoms = [0.8134, 0.6328, 0.4812, 0.3309, 0.1792, 0.0280]

series = [
    (cobe_start, cobe_sst),
    (0.0, no_sst),
    (0.0, ad_sst),
    (0.0, sd_sst),
    (0.0, n4_sst),
    (0.0, wp_sst),
]

for i, (b, (start, vals)) in enumerate(zip(bottoms, series)):
    ax = fig.add_axes([left, b, width, height])
    df = pd.DataFrame({"year": start + 0.5 * np.arange(len(vals)), "sst": vals})
    sns.lineplot(data=df, x="year", y="sst", ax=ax, color="#2a2a2a",
                 linewidth=0.7, estimator=None)
    ax.axhline(0, color="#1a1a1a", lw=0.7, zorder=1)

    if i == 0:
        ax.set_xlim(1849.6, 2151.0)
        ax.set_xticks(cobe_ticks)
        ax.set_xticklabels([str(t) for t in cobe_ticks])
    else:
        ax.set_xlim(-0.4, 301.0)
        ax.set_xticks(model_ticks)
        if i == 5:
            ax.set_xticklabels([str(t) for t in model_ticks])
        else:
            ax.set_xticklabels([])

    ax.set_ylim(-3.5, 3.42)
    ax.set_yticks([-3, -2, -1, 0, 1, 2, 3])
    ax.set_yticklabels(["", "-2", "", "0", "", "2", ""])

    ax.grid(True, linestyle=(0, (1.5, 2.5)), color="#b5b5b5", linewidth=0.6)
    ax.set_axisbelow(True)
    ax.tick_params(direction="in", length=4, width=0.7, color="#555555",
                   top=True, right=True, labelsize=12.5, labelcolor="#111111", pad=3)
    for sp in ax.spines.values():
        sp.set_color("#333333")
        sp.set_linewidth(1.1)
    ax.set_xlabel("")
    ax.set_ylabel("")
    ax.set_title(panel_titles[i], loc="left", fontsize=13.7, pad=4, color="#111111")

fig.text(0.5, 1 - 14 / 679, "Niño-3 SST anomalies (K)", ha="center", va="center",
         fontsize=13.5, family="DejaVu Sans", color="#222222")

fig.savefig("out.png", dpi=100)
